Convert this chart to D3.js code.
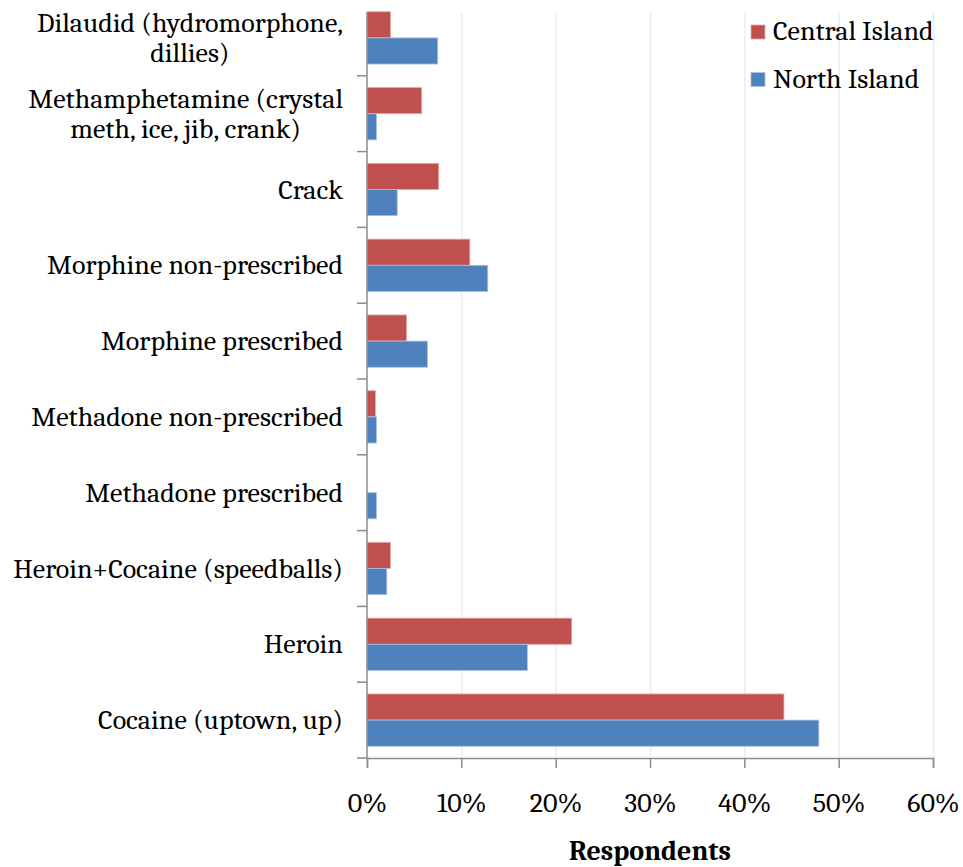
<!DOCTYPE html>
<html>
<head>
<meta charset="utf-8">
<script src="https://cdn.jsdelivr.net/npm/d3@7"></script>
<style>
  html, body { margin: 0; padding: 0; background: #ffffff; }
  svg { display: block; }
</style>
</head>
<body>
<svg id="chart" width="963" height="867"></svg>
<script>
// Drug categories, listed top to bottom; "\n" splits a label over two lines
const categories = [
  "Dilaudid (hydromorphone,\ndillies)",
  "Methamphetamine (crystal\nmeth, ice, jib, crank)",
  "Crack",
  "Morphine non-prescribed",
  "Morphine prescribed",
  "Methadone non-prescribed",
  "Methadone prescribed",
  "Heroin+Cocaine (speedballs)",
  "Heroin",
  "Cocaine (uptown, up)"
];

// Share of respondents (%) per region, same order as categories
const centralIsland = [2.5, 5.8, 7.6, 10.9, 4.2, 0.9, 0, 2.5, 21.7, 44.2];
const northIsland   = [7.5, 1.0, 3.2, 12.8, 6.4, 1.0, 1.0, 2.1, 17.0, 47.9];

const seriesNames  = ["Central Island", "North Island"];
const seriesColors = ["#C0504D", "#4F81BD"];
const seriesStroke = ["#E6A9A7", "#A9C2E3"];

const xTicks = [0, 10, 20, 30, 40, 50, 60];
const xTitle = "Respondents";

const svg = d3.select("#chart");
const serif = "Cambria, Caladea, 'Liberation Serif', 'DejaVu Serif', serif";
const fs = 28;

const plot = { left: 367, right: 933, top: 0, bottom: 758 };
const visibleTop = 12;

const x = d3.scaleLinear().domain([0, 60]).range([plot.left, plot.right]);
const y = d3.scaleBand().domain(categories).range([plot.top, plot.bottom]).paddingInner(0.31).paddingOuter(0.155);
const ySub = d3.scaleBand().domain(seriesNames).range([0, y.bandwidth()]);

// vertical gridlines
svg.append("g").selectAll("line")
  .data(xTicks.filter(t => t > 0))
  .join("line")
  .attr("x1", d => x(d) + 0.5).attr("x2", d => x(d) + 0.5)
  .attr("y1", visibleTop).attr("y2", plot.bottom)
  .attr("stroke", "#EBEBEB").attr("stroke-width", 1.3);

// bars
const rows = categories.map((c, i) => ({ cat: c, vals: [centralIsland[i], northIsland[i]] }));
const groups = svg.append("g").selectAll("g")
  .data(rows).join("g")
  .attr("transform", d => `translate(0,${y(d.cat)})`);

groups.selectAll("rect")
  .data(d => d.vals.map((v, j) => ({ v, j })).filter(e => e.v > 0))
  .join("rect")
  .attr("x", x(0))
  .attr("y", e => ySub(seriesNames[e.j]))
  .attr("width", e => x(e.v) - x(0))
  .attr("height", ySub.bandwidth())
  .attr("fill", e => seriesColors[e.j])
  .attr("stroke", e => seriesStroke[e.j])
  .attr("stroke-width", 0.8);

// x axis
const xAxis = d3.axisBottom(x).tickValues(xTicks).tickFormat(d => d + "%").tickSize(10).tickPadding(24);
const gx = svg.append("g").attr("transform", `translate(0,${plot.bottom})`).call(xAxis);
gx.select(".domain").attr("stroke", "#8C8C8C").attr("stroke-width", 1.5);
gx.selectAll(".tick line").attr("stroke", "#8C8C8C").attr("stroke-width", 1.5);
gx.selectAll(".tick text")
  .attr("font-family", serif).attr("font-size", fs).attr("fill", "#000");

// y axis
const yEdges = d3.range(categories.length + 1).map(i => plot.top + i * y.step());
const gy = svg.append("g");
gy.append("line")
  .attr("x1", plot.left).attr("x2", plot.left)
  .attr("y1", visibleTop).attr("y2", plot.bottom)
  .attr("stroke", "#8C8C8C").attr("stroke-width", 1.5);
gy.selectAll("line.tk")
  .data(yEdges.filter(v => v > visibleTop))
  .join("line").attr("class", "tk")
  .attr("x1", plot.left - 10).attr("x2", plot.left)
  .attr("y1", d => d).attr("y2", d => d)
  .attr("stroke", "#8C8C8C").attr("stroke-width", 1.5);

// category labels (multi-line labels are centred on their longest line)
const labelRight = 343;
const lineH = 30.5;
categories.forEach(c => {
  const lines = c.split("\n");
  const cy = y(c) + y.bandwidth() / 2;
  const t = svg.append("text")
    .attr("font-family", serif).attr("font-size", fs).attr("fill", "#000");
  if (lines.length === 1) {
    t.attr("x", labelRight).attr("y", cy + 9).attr("text-anchor", "end").text(c);
  } else {
    t.attr("text-anchor", "middle");
    const tmp = t.append("tspan").text(lines[0]);
    const w = tmp.node().getComputedTextLength();
    tmp.remove();
    const mid = labelRight - w / 2;
    lines.forEach((ln, k) => {
      t.append("tspan").attr("x", mid).attr("y", cy - 6 + k * lineH).text(ln);
    });
  }
});

// axis title
svg.append("text")
  .attr("x", 650).attr("y", 860)
  .attr("text-anchor", "middle")
  .attr("font-family", serif).attr("font-size", fs).attr("font-weight", "bold")
  .attr("fill", "#000").text(xTitle);

// legend
const legend = svg.append("g").attr("transform", "translate(751,25)");
seriesNames.forEach((name, i) => {
  const g = legend.append("g").attr("transform", `translate(0,${i * 47.5})`);
  g.append("rect").attr("width", 14).attr("height", 14)
    .attr("fill", seriesColors[i]).attr("stroke", seriesStroke[i]).attr("stroke-width", 0.8);
  g.append("text").attr("x", 22).attr("y", 15)
    .attr("font-family", serif).attr("font-size", fs).attr("fill", "#000").text(name);
});
</script>
</body>
</html>
